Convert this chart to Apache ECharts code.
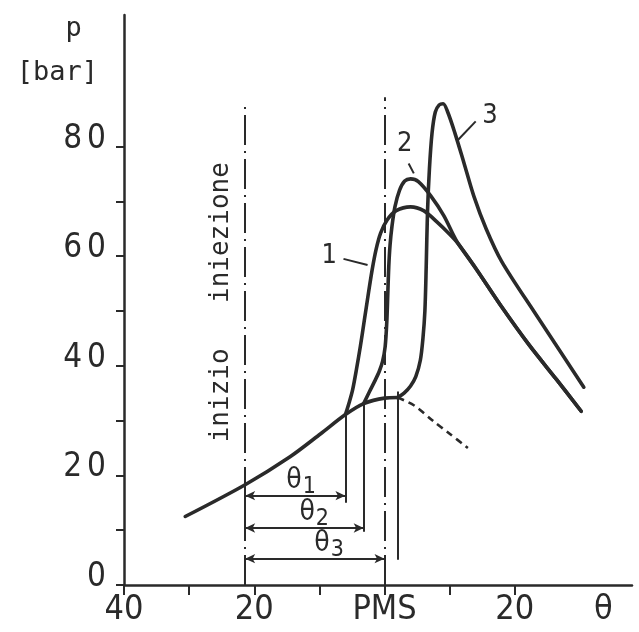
<!DOCTYPE html>
<html>
<head>
<meta charset="utf-8">
<script src="https://cdn.jsdelivr.net/npm/echarts@6/dist/echarts.min.js"></script>
<style>
  html, body { margin: 0; padding: 0; background: #fff; }
  #chart { width: 639px; height: 632px; }
</style>
</head>
<body>
<div id="chart"></div>
<script>
// crank angle (deg, PMS = 0) / pressure (bar)
const xTicks = [-40, -30, -20, -10, 0, 10, 20];
const xLabels = { '-40': '40', '-20': '20', '0': 'PMS', '20': '20', '33.6': 'θ' };
const yTicks = [0, 10, 20, 30, 40, 50, 60, 70, 80];
const yLabels = [0, 20, 40, 60, 80];

// compression line (no combustion)
const compression = [
  [-30.6, 12.5], [-21.4, 18.3], [-14.5, 23.4], [-9.8, 27.6], [-6, 31.1],
  [-3.2, 33.1], [0, 34.1], [2, 34.2],
];
const expansionNoComb = [[2, 34.2], [4.5, 32.8], [7.5, 29.9], [10, 27.6], [12.8, 25]];

const tail12 = [[14, 57.8], [17.9, 50.9], [22.2, 43.8], [26.4, 37.5], [30.2, 31.7]];
const curve1 = [
  [-6, 31.1], [-5.4, 33.4], [-4.9, 35.6], [-4.3, 39.4], [-3.7, 43.6], [-3.1, 48.3],
  [-2.5, 53], [-1.9, 57.5], [-1.3, 61.2], [-0.6, 64.2], [0.4, 66.6], [1.8, 68.3],
  [4, 69], [6, 68.3], [8, 66.3], [10, 64], [11.3, 62.3],
].concat(tail12);
const curve2 = [
  [-3.2, 33.1], [-2.3, 35.3], [-1.5, 37.2], [-0.8, 39], [-0.3, 40.8], [0.1, 43.5],
  [0.35, 48], [0.5, 53], [0.65, 58], [0.85, 62], [1.15, 65.5], [1.6, 69],
  [2.3, 72], [3.1, 73.7], [4, 74.1], [5.2, 73.6], [7.1, 71], [9.1, 67.4],
  [10.6, 63.8], [11.3, 62.3],
].concat(tail12);
const curve3 = [
  [2, 34.2], [3, 35], [4, 36.3], [4.8, 38], [5.5, 41], [5.9, 45], [6.2, 50],
  [6.4, 58], [6.6, 68], [6.9, 76], [7.3, 82.5], [7.8, 86.3], [8.4, 87.6],
  [9, 87.8], [9.7, 86.3], [10.8, 82.5], [12.2, 77], [13.7, 71], [15.6, 65],
  [18, 59], [23, 49.8], [30.6, 36.1],
];

// dash-dot references: start of injection, PMS  [x, top]
const refLines = [[-21.4, 87.3], [0, 89]];
// thin drops from ignition points  [x, yTop, yBottom]
const drops = [[-6, 31.4, 15], [-3.2, 33.3, 9.7], [2, 35.3, 4.6], [-21.4, 16.3, 10.4]];
// delay arrows  [xFrom, xTo, y]
const delays = [[-21.4, -6, 16.3], [-21.4, -3.2, 10.4], [-21.4, 0, 4.8]];
const delayLabels = [[-12.8, 19, '1'], [-10.8, 13.2, '2'], [-8.5, 7.5, '3']];
const curveLabels = [[-8.5, 60, '1'], [3.1, 80.4, '2'], [16.2, 85.5, '3']];
const leaders = [
  [[-6.3, 59.5], [-2.6, 58.4]],
  [[3.7, 76.9], [4.5, 75.1]],
  [[14, 84.6], [11.2, 81.1]],
];
const vertText = [[-25.1, 34.6, 'inizio'], [-25.1, 64.3, 'iniezione']];

const INK = '#2a2a2a';
const NARROW = "'Liberation Sans Narrow', 'DejaVu Sans Condensed', sans-serif";
const MONO = "'DejaVu Sans Mono', 'Liberation Mono', monospace";

const thick = (name, data) => ({
  name, type: 'line', data, smooth: 0.3, symbol: 'none', silent: true,
  lineStyle: { color: INK, width: 3.6, cap: 'round', join: 'round' },
});

const textSeries = (name, data, label) => ({
  name, type: 'scatter', symbolSize: 0, silent: true,
  itemStyle: { opacity: 1 },
  data: data.map(([x, y, t]) => [x, y, t]),
  label: Object.assign({ show: true, position: 'inside', color: INK, textBorderWidth: 0 }, label),
});

const option = {
  backgroundColor: '#fff',
  animation: false,
  grid: { left: 124, right: 7, top: 15, bottom: 47, outerBoundsMode: 'none' },
  xAxis: {
    type: 'value', min: -40, max: 38,
    splitLine: { show: false },
    axisLine: { onZero: false, lineStyle: { color: INK, width: 2.5 } },
    axisTick: { customValues: xTicks, length: 10, lineStyle: { color: INK, width: 2 } },
    axisLabel: {
      customValues: Object.keys(xLabels).map(Number),
      formatter: (v) => xLabels[String(v)],
      margin: 8, color: INK, fontSize: 34, fontFamily: NARROW,
    },
  },
  yAxis: {
    type: 'value', min: 0, max: 104,
    name: '   p \n[bar]',
    nameLocation: 'end', nameGap: 8,
    nameTextStyle: {
      fontFamily: MONO, fontSize: 27, color: INK, lineHeight: 44,
      align: 'right', verticalAlign: 'top', padding: [0, 26, 0, 0],
    },
    splitLine: { show: false },
    axisLine: { onZero: false, lineStyle: { color: INK, width: 2.5 } },
    axisTick: { customValues: yTicks, length: 8, lineStyle: { color: INK, width: 2 } },
    axisLabel: {
      customValues: yLabels,
      formatter: (v) => String(v).split('').join('\u2006'),
      margin: 18, color: INK, fontSize: 33, fontFamily: NARROW,
      verticalAlign: 'bottom', padding: [0, 0, -9, 0],
    },
  },
  series: [
    thick('compressione', compression),
    {
      name: 'senza combustione', type: 'line', data: expansionNoComb, smooth: 0.3,
      symbol: 'none', silent: true,
      lineStyle: { color: INK, width: 2.6, type: [7, 5] },
    },
    thick('1', curve1),
    thick('2', curve2),
    thick('3', curve3),
    {
      name: 'riferimenti', type: 'line', data: [], silent: true,
      markLine: {
        silent: true, animation: false, symbol: 'none',
        label: { show: false },
        lineStyle: { color: INK, width: 2, type: [30, 6, 2, 6] },
        data: refLines.map(([x, top]) => [{ coord: [x, 0] }, { coord: [x, top] }]),
      },
    },
    {
      name: 'verticali', type: 'line', data: [], silent: true,
      markLine: {
        silent: true, animation: false, symbol: 'none',
        label: { show: false },
        lineStyle: { color: INK, width: 2, type: 'solid' },
        data: drops.map(([x, a, b]) => [{ coord: [x, a] }, { coord: [x, b] }])
          .concat(leaders.map(([a, b]) => [{ coord: a }, { coord: b }])),
      },
    },
    {
      name: 'ritardi', type: 'line', data: [], silent: true,
      markLine: {
        silent: true, animation: false,
        symbol: ['arrow', 'arrow'], symbolSize: [7, 10],
        label: { show: false },
        lineStyle: { color: INK, width: 2, type: 'solid' },
        data: delays.map(([a, b, y]) => [{ coord: [a, y] }, { coord: [b, y] }]),
      },
    },
    textSeries('etichette', curveLabels, {
      formatter: (p) => p.value[2], fontSize: 27, fontFamily: NARROW,
    }),
    textSeries('theta', delayLabels, {
      formatter: (p) => '{t|θ}{s|' + p.value[2] + '}',
      rich: {
        t: { fontSize: 28, fontFamily: NARROW, color: INK },
        s: { fontSize: 23, fontFamily: NARROW, color: INK, verticalAlign: 'bottom', padding: [12, 0, 0, 1] },
      },
    }),
    textSeries('iniezione', vertText, {
      rotate: 90, formatter: (p) => p.value[2], fontSize: 26, fontFamily: MONO,
    }),
  ],
};

const chart = echarts.init(document.getElementById('chart'));
chart.setOption(option);
</script>
</body>
</html>
